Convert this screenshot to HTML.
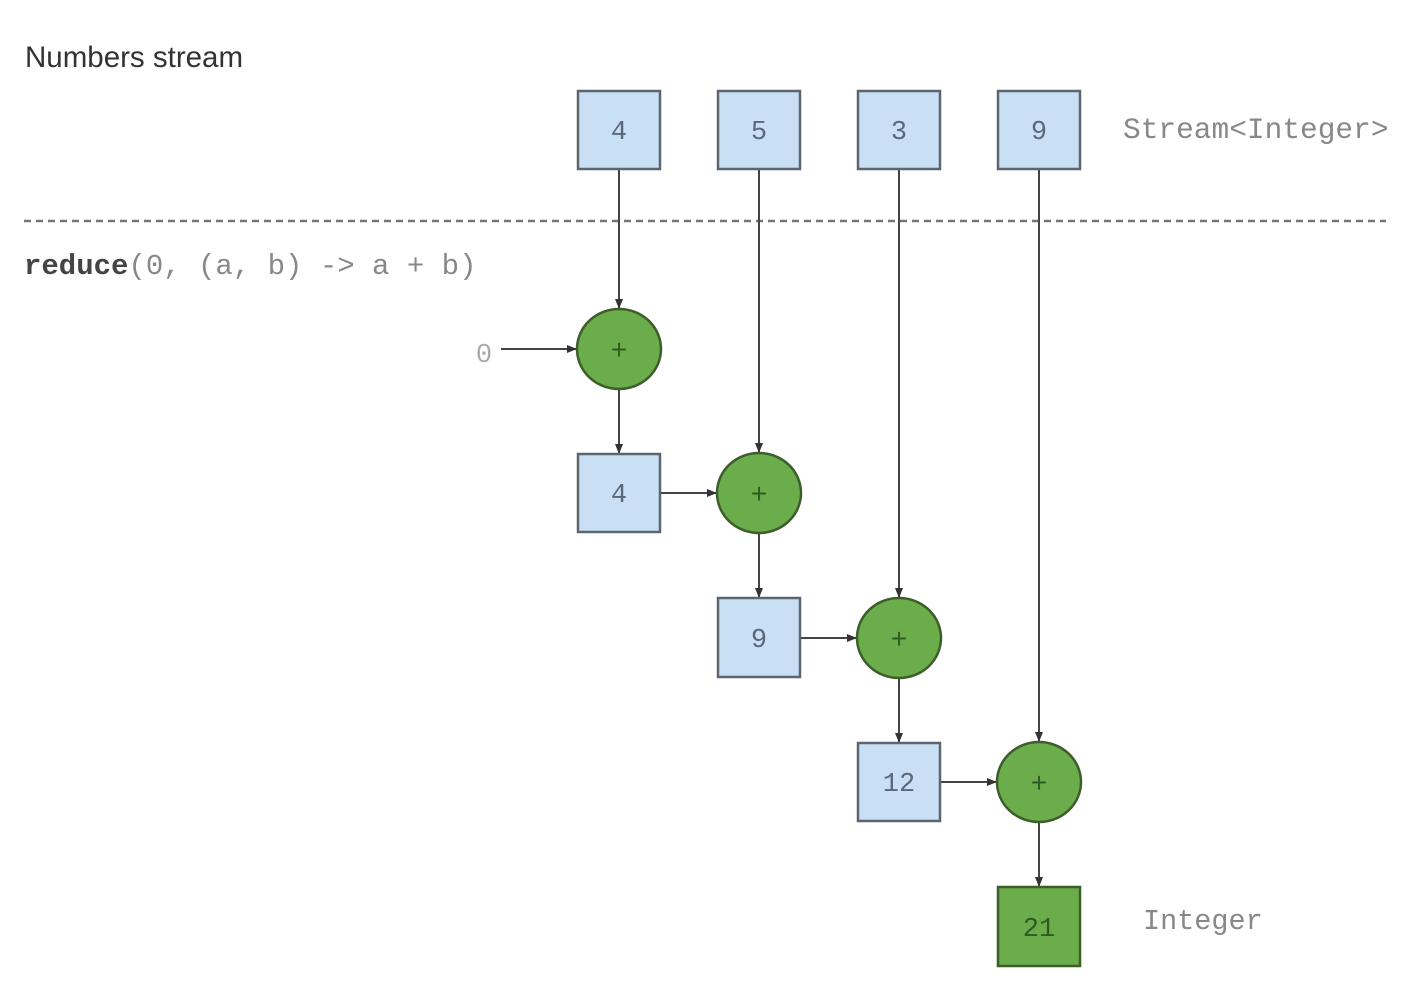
<!DOCTYPE html>
<html><head><style>
html,body{margin:0;padding:0;background:#fff;}
svg{display:block;}
</style></head><body>
<svg width="1410" height="1004" viewBox="0 0 1410 1004" xmlns="http://www.w3.org/2000/svg">
<defs>
<marker id="a" markerWidth="10" markerHeight="8" refX="9" refY="4" orient="auto" markerUnits="userSpaceOnUse">
<path d="M0,0 L10,4 L0,8 z" fill="#333"/>
</marker>
</defs>
<text x="25" y="67" font-family="Liberation Sans, sans-serif" font-size="29.5" fill="#333">Numbers stream</text>
<line x1="24" y1="221" x2="1386" y2="221" stroke="#777" stroke-width="2.5" stroke-dasharray="7,5"/>
<text x="24" y="274" font-family="Liberation Mono, monospace" font-size="29" fill="#888"><tspan font-weight="bold" fill="#444">reduce</tspan>(0, (a, b) -&gt; a + b)</text>
<text x="1123" y="138" font-family="Liberation Mono, monospace" font-size="29.5" fill="#888">Stream&lt;Integer&gt;</text>
<text x="1143" y="929" font-family="Liberation Mono, monospace" font-size="28.5" fill="#888">Integer</text>
<text x="484" y="362" font-family="Liberation Mono, monospace" font-size="27" fill="#aaa" text-anchor="middle">0</text>

<g stroke="#444" stroke-width="2" fill="none">
<line x1="619" y1="169" x2="619" y2="308" marker-end="url(#a)"/>
<line x1="759" y1="169" x2="759" y2="452" marker-end="url(#a)"/>
<line x1="899" y1="169" x2="899" y2="597" marker-end="url(#a)"/>
<line x1="1039" y1="169" x2="1039" y2="741" marker-end="url(#a)"/>
<line x1="501" y1="349" x2="576" y2="349" marker-end="url(#a)"/>
<line x1="619" y1="389" x2="619" y2="453" marker-end="url(#a)"/>
<line x1="660" y1="493" x2="716" y2="493" marker-end="url(#a)"/>
<line x1="759" y1="533" x2="759" y2="597" marker-end="url(#a)"/>
<line x1="800" y1="638" x2="856" y2="638" marker-end="url(#a)"/>
<line x1="899" y1="678" x2="899" y2="742" marker-end="url(#a)"/>
<line x1="940" y1="782" x2="996" y2="782" marker-end="url(#a)"/>
<line x1="1039" y1="822" x2="1039" y2="886" marker-end="url(#a)"/>
</g>

<g fill="#c9dff3" stroke="#5b6670" stroke-width="2.5">
<rect x="578" y="91" width="82" height="78"/>
<rect x="718" y="91" width="82" height="78"/>
<rect x="858" y="91" width="82" height="78"/>
<rect x="998" y="91" width="82" height="78"/>
<rect x="578" y="454" width="82" height="78"/>
<rect x="718" y="598" width="82" height="79"/>
<rect x="858" y="743" width="82" height="78"/>
</g>
<rect x="998" y="887" width="82" height="79" fill="#6aad4a" stroke="#3d5e2c" stroke-width="2.5"/>

<g fill="#6aad4a" stroke="#3d5e2c" stroke-width="2.5">
<ellipse cx="619" cy="349" rx="42" ry="40"/>
<ellipse cx="759" cy="493" rx="42" ry="40"/>
<ellipse cx="899" cy="638" rx="42" ry="40"/>
<ellipse cx="1039" cy="782" rx="42" ry="40"/>
</g>

<g font-family="Liberation Mono, monospace" font-size="27" fill="#5a6878" text-anchor="middle">
<text x="619" y="139">4</text>
<text x="759" y="139">5</text>
<text x="899" y="139">3</text>
<text x="1039" y="139">9</text>
<text x="619" y="502">4</text>
<text x="759" y="647">9</text>
<text x="899" y="791">12</text>
<text x="1039" y="936" fill="#2f5a22">21</text>
</g>
<g font-family="Liberation Sans, sans-serif" font-size="28" fill="#2f5a22" text-anchor="middle">
<text x="619" y="359">+</text>
<text x="759" y="503">+</text>
<text x="899" y="648">+</text>
<text x="1039" y="792">+</text>
</g>
</svg>
</body></html>
